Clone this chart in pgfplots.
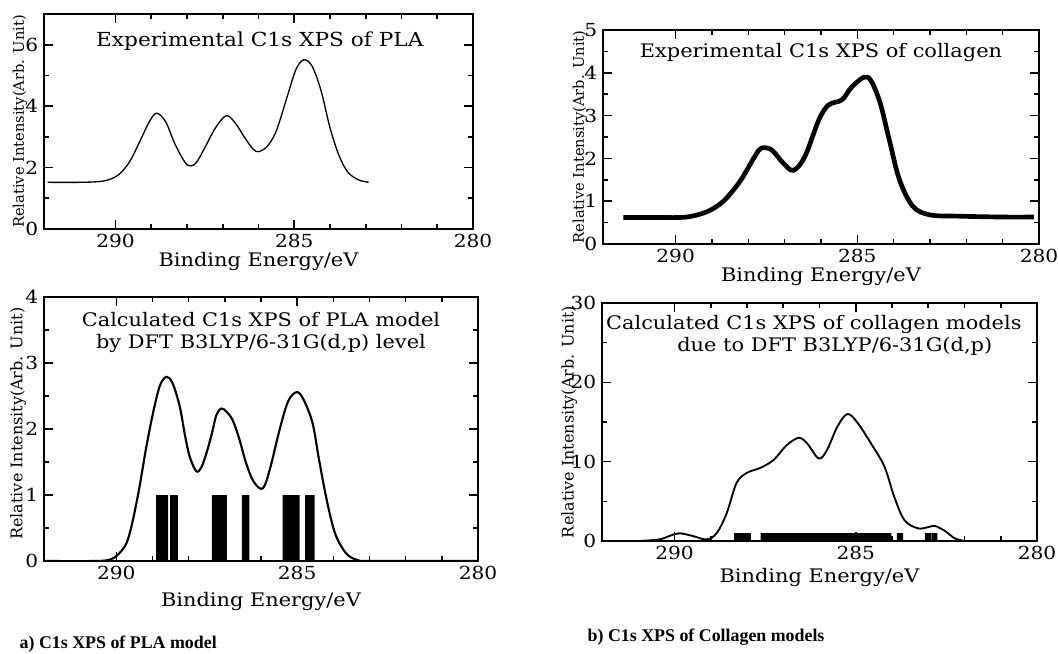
\documentclass[border=0pt]{standalone}
\usepackage{pgfplots}
\pgfplotsset{compat=1.18}
\usepackage{fontspec}
\setmainfont{DejaVu Serif}
\newfontfamily\capfont{Liberation Serif}

\pgfplotsset{
  every axis/.append style={line width=1pt},
  xps/.style={
    scale only axis, anchor=south west,
    x dir=reverse, xmin=280, xmax=292,
    xtick={280,285,290}, minor x tick num=4,
    major tick length=6.5pt, minor tick length=4pt,
    major tick style={draw=black, line width=1.2pt},
    minor tick style={draw=black, line width=1.2pt},
    /pgf/number format/assume math mode=true,
    ticklabel style={font=\fontsize{13.5}{13.5}\selectfont, xscale=1.12},
    xlabel={Binding Energy/eV},
    xlabel style={font=\fontsize{14}{14}\selectfont, xscale=1.12, anchor=center},
    ylabel={Relative Intensity(Arb. Unit)},
    ylabel style={anchor=center},
  },
}
\tikzset{ttl/.style={font=\fontsize{14}{16.5}\selectfont, xscale=1.12, align=center}}

\begin{document}
\begin{tikzpicture}
\useasboundingbox (0pt,0pt) rectangle (793.5pt,-490.5pt);

% a) experimental PLA
\begin{axis}[xps, at={(33pt,-171.75pt)}, width=321.75pt, height=161.25pt,
  ymin=0, ymax=7, ytick={0,2,4,6}, minor y tick num=1,
  xlabel style={at={(axis description cs:0.5,-0.153)}},
  ylabel style={at={(axis description cs:-0.056,0.5)}, font=\fontsize{11}{11}\selectfont}]
\addplot[black, line width=1pt, smooth, tension=0.55] coordinates {
(291.9,1.52) (291.0,1.52) (290.5,1.54) (290.2,1.6) (289.9,1.78) (289.6,2.2)
(289.3,2.9) (289.05,3.5) (288.85,3.77) (288.6,3.5) (288.35,2.8) (288.1,2.25)
(287.95,2.06) (287.75,2.15) (287.5,2.65) (287.2,3.3) (286.9,3.69) (286.65,3.45)
(286.4,3.0) (286.15,2.6) (285.99,2.52) (285.75,2.7) (285.5,3.2) (285.2,4.3)
(284.95,5.2) (284.73,5.51) (284.5,5.3) (284.25,4.5) (284.0,3.3) (283.75,2.4)
(283.5,1.85) (283.2,1.6) (282.92,1.52)};
\node[ttl, font=\fontsize{14.5}{16.5}\selectfont] at (rel axis cs:0.503,0.874) {Experimental C1s XPS of PLA};
\end{axis}

% b) experimental collagen
\begin{axis}[xps, at={(452.25pt,-183pt)}, width=327pt, height=160.5pt,
  ymin=0, ymax=5, ytick={0,1,2,3,4,5}, minor y tick num=1,
  xlabel style={at={(axis description cs:0.5,-0.154)}},
  ylabel style={at={(axis description cs:-0.053,0.5)}, font=\fontsize{11}{11}\selectfont}]
\addplot[black, line width=3.5pt, smooth, tension=0.55] coordinates {
(291.44,0.62) (290.6,0.62) (289.86,0.62) (289.5,0.66) (289.12,0.76) (288.8,0.92)
(288.56,1.11) (288.2,1.5) (287.82,2.05) (287.64,2.24) (287.36,2.2) (287.05,1.9)
(286.76,1.72) (286.44,2.05) (286.06,2.9) (285.79,3.25) (285.42,3.37) (285.14,3.68)
(284.72,3.9) (284.4,3.37) (284.12,2.43) (283.84,1.5) (283.47,0.88) (283.0,0.68)
(282.18,0.65) (281.0,0.63) (280.14,0.63)};
\node[ttl] at (rel axis cs:0.5,0.897) {Experimental C1s XPS of collagen};
\end{axis}

% c) calculated PLA
\begin{axis}[xps, at={(33pt,-420.75pt)}, width=325.5pt, height=198pt,
  ymin=0, ymax=4, ytick={0,1,2,3,4}, minor y tick num=1,
  xlabel style={at={(axis description cs:0.5,-0.155)}},
  ylabel style={at={(axis description cs:-0.06,0.52)}, font=\fontsize{12}{12}\selectfont}]
\addplot[ybar, bar width=0.12, fill=black, draw=none] coordinates {
(288.84,1) (288.73,1) (288.63,1) (288.45,1) (288.36,1)
(287.30,1) (287.20,1) (287.10,1) (287.00,1) (286.47,1) (286.38,1)
(285.34,1) (285.24,1) (285.14,1) (285.04,1) (284.99,1)
(284.72,1) (284.62,1) (284.58,1)};
\addplot[black, line width=1.6pt, smooth, tension=0.55] coordinates {
(292,0) (290.6,0) (290.18,0.02) (289.95,0.1) (289.72,0.27) (289.55,0.6)
(289.36,1.12) (289.18,1.7) (288.99,2.23) (288.8,2.65) (288.62,2.79) (288.45,2.7)
(288.25,2.35) (288.1,1.9) (287.97,1.58) (287.79,1.36) (287.65,1.42) (287.51,1.63)
(287.35,1.95) (287.24,2.2) (287.1,2.31) (286.95,2.26) (286.78,2.13) (286.6,1.85)
(286.41,1.48) (286.2,1.2) (285.95,1.1) (285.75,1.4) (285.49,1.98) (285.25,2.42)
(285.0,2.56) (284.8,2.42) (284.57,2.08) (284.4,1.55) (284.2,0.97) (284.0,0.5)
(283.83,0.27) (283.6,0.09) (283.3,0.01) (282.9,0) (280,0)};
\node[ttl] at (rel axis cs:0.5,0.867)
  {Calculated C1s XPS of PLA model\\by DFT B3LYP/6-31G(d,p) level};
\end{axis}

% d) calculated collagen
\begin{axis}[xps, at={(451.5pt,-405.75pt)}, width=326.25pt, height=178.5pt,
  ymin=0, ymax=30, ytick={0,10,20,30}, minor y tick num=1,
  xlabel style={at={(axis description cs:0.5,-0.155)}},
  ylabel style={at={(axis description cs:-0.075,0.5)}, font=\fontsize{12}{12}\selectfont}]
\addplot[ybar, bar width=0.17, fill=black, draw=none] coordinates {
(288.27,1) (288.12,1) (287.98,1)
(287.54,1) (287.40,1) (287.25,1) (287.10,1) (286.95,1) (286.80,1) (286.65,1)
(286.50,1) (286.35,1) (286.20,1) (286.05,1) (285.90,1) (285.75,1) (285.60,1)
(285.45,1) (285.30,1) (285.15,1) (285.00,1) (284.85,1) (284.70,1) (284.55,1)
(284.40,1) (284.25,1) (284.10,1)
(283.78,1) (283.01,1) (282.83,1)};
\addplot[black, line width=1.4pt, smooth, tension=0.55] coordinates {
(290.97,0) (290.42,0.2) (290.1,0.7) (289.86,0.97) (289.49,0.63) (289.12,0.2)
(288.84,0.97) (288.56,3.5) (288.29,7.3) (288.0,8.6) (287.64,9.2) (287.27,10.2)
(286.9,12.1) (286.57,13.0) (286.34,12.3) (286.02,10.4) (285.79,11.5) (285.51,14.4)
(285.23,16.0) (284.95,14.9) (284.58,12.3) (284.21,9.4) (283.94,5.6) (283.66,2.65)
(283.29,1.6) (283.0,1.75) (282.82,1.9) (282.55,1.3) (282.27,0.34) (281.99,0)};
\node[ttl] at (rel axis cs:0.487,0.866)
  {Calculated C1s XPS of collagen models\\\hspace*{2em}due to DFT B3LYP/6-31G(d,p)};
\end{axis}

\node[anchor=west, font=\capfont\bfseries\fontsize{13.4}{13.4}\selectfont] at (11.25pt,-483pt) {a) C1s XPS of PLA model};
\node[anchor=west, font=\capfont\bfseries\fontsize{13.4}{13.4}\selectfont] at (437.25pt,-477.75pt) {b) C1s XPS of Collagen models};
\end{tikzpicture}
\end{document}
